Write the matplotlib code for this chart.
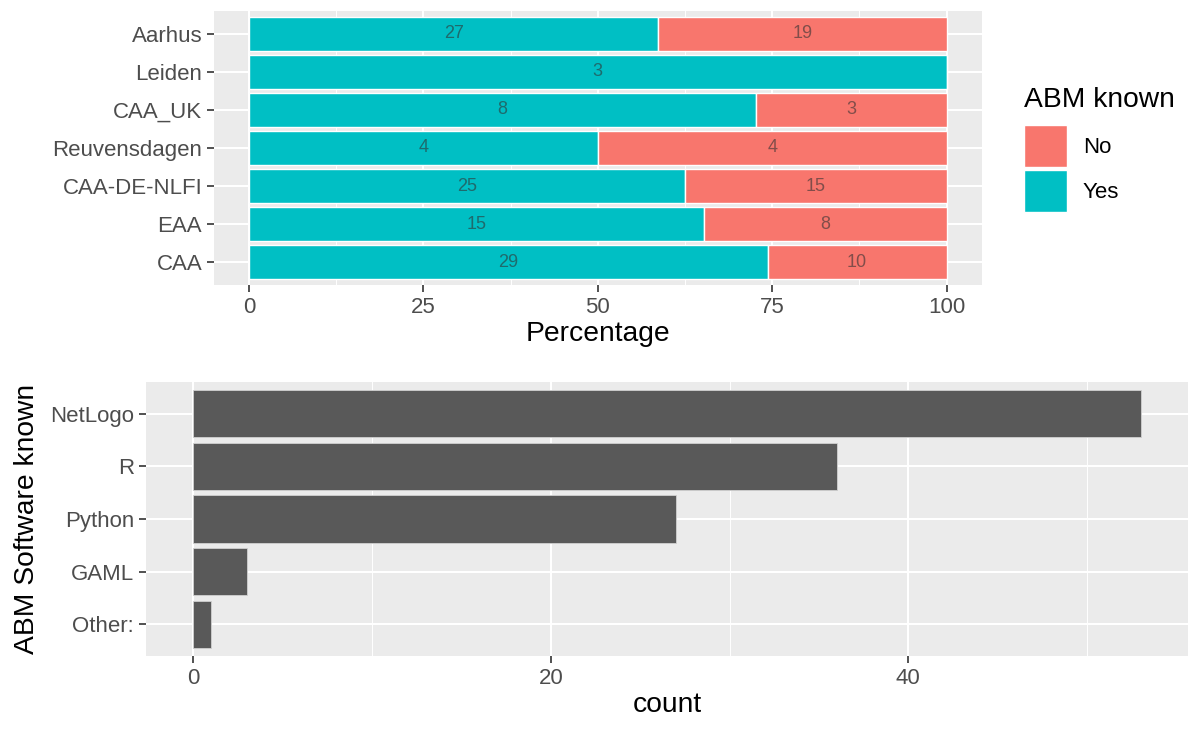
import matplotlib.pyplot as plt
import numpy as np
from matplotlib.patches import Patch

# top panel: ABM known per conference
sites = ["Aarhus", "Leiden", "CAA_UK", "Reuvensdagen", "CAA-DE-NLFI", "EAA", "CAA"]
yes_counts = [27, 3, 8, 4, 25, 15, 29]
no_counts = [19, 0, 3, 4, 15, 8, 10]

# bottom panel: ABM software known
software = ["NetLogo", "R", "Python", "GAML", "Other:"]
software_counts = [53, 36, 27, 3, 1]

YES_COL = "#00BFC4"
NO_COL = "#F8766D"
PANEL = "#EBEBEB"
TICK_TXT = "#4D4D4D"
TICK_FS = 16
TITLE_FS = 20.3

plt.rcParams["font.family"] = ["Liberation Sans", "DejaVu Sans"]


def style_axes(ax):
    ax.set_facecolor(PANEL)
    for s in ax.spines.values():
        s.set_visible(False)
    ax.grid(True, which="major", color="white", linewidth=1.5)
    ax.grid(True, which="minor", axis="x", color="white", linewidth=0.7)
    ax.set_axisbelow(True)
    ax.tick_params(which="major", length=5, width=1.2, color="#333333",
                   labelsize=TICK_FS, labelcolor=TICK_TXT, pad=3.5)
    ax.tick_params(which="minor", length=0)


fig = plt.figure(figsize=(12, 7.31), dpi=100)

# ---- top panel ----
ax1 = fig.add_axes([214 / 1200, 1 - 285 / 731, (981.5 - 214) / 1200, (285 - 11) / 731])
yes = np.array(yes_counts, dtype=float)
no = np.array(no_counts, dtype=float)
tot = yes + no
yes_pct = yes / tot * 100
no_pct = no / tot * 100
ypos = np.arange(len(sites))[::-1]

ax1.barh(ypos, yes_pct, height=0.9, color=YES_COL, edgecolor="white", linewidth=1)
ax1.barh(ypos, no_pct, left=yes_pct, height=0.9, color=NO_COL, edgecolor="white", linewidth=1)

for y, yp, npc, yc, nc in zip(ypos, yes_pct, no_pct, yes_counts, no_counts):
    if yc > 0:
        ax1.text(yp / 2, y, str(yc), ha="center", va="center", fontsize=13,
                 color="#333333", alpha=0.6)
    if nc > 0:
        ax1.text(yp + npc / 2, y, str(nc), ha="center", va="center", fontsize=13,
                 color="#333333", alpha=0.6)

style_axes(ax1)
ax1.set_xlim(-5, 105)
ax1.set_ylim(-0.6, len(sites) - 0.4)
ax1.set_xticks([0, 25, 50, 75, 100])
ax1.set_xticks([12.5, 37.5, 62.5, 87.5], minor=True)
ax1.set_yticks(ypos)
ax1.set_yticklabels(sites)
ax1.set_xlabel("Percentage", fontsize=TITLE_FS, labelpad=2)

# legend: title as separate text, keys via fig.legend
fig.text(1024 / 1200, 1 - 107 / 731, "ABM known", fontsize=TITLE_FS,
         ha="left", va="baseline")
handles = [Patch(facecolor=NO_COL, edgecolor="white", label="No"),
           Patch(facecolor=YES_COL, edgecolor="white", label="Yes")]
leg = fig.legend(handles=handles, loc="upper left",
                 bbox_to_anchor=(1024 / 1200, 1 - 125 / 731), frameon=False,
                 fontsize=TICK_FS, handlelength=1.94,
                 handleheight=2.53, labelspacing=0.13, handletextpad=0.7,
                 borderpad=0, borderaxespad=0)

# ---- bottom panel ----
ax2 = fig.add_axes([146 / 1200, 1 - 656 / 731, (1188 - 146) / 1200, (656 - 382) / 731])
spos = np.arange(len(software))[::-1]
ax2.barh(spos, software_counts, height=0.9, color="#595959", edgecolor="#d0d0d0", linewidth=0.6)
style_axes(ax2)
ax2.set_xlim(-2.65, max(software_counts) * 1.05)
ax2.set_ylim(-0.6, len(software) - 0.4)
ax2.set_xticks([0, 20, 40])
ax2.set_xticks([10, 30, 50], minor=True)
ax2.set_yticks(spos)
ax2.set_yticklabels(software)
ax2.set_xlabel("count", fontsize=TITLE_FS, labelpad=2)
ax2.set_ylabel("ABM Software known", fontsize=TITLE_FS, labelpad=7)

fig.savefig("out.png", dpi=100)
